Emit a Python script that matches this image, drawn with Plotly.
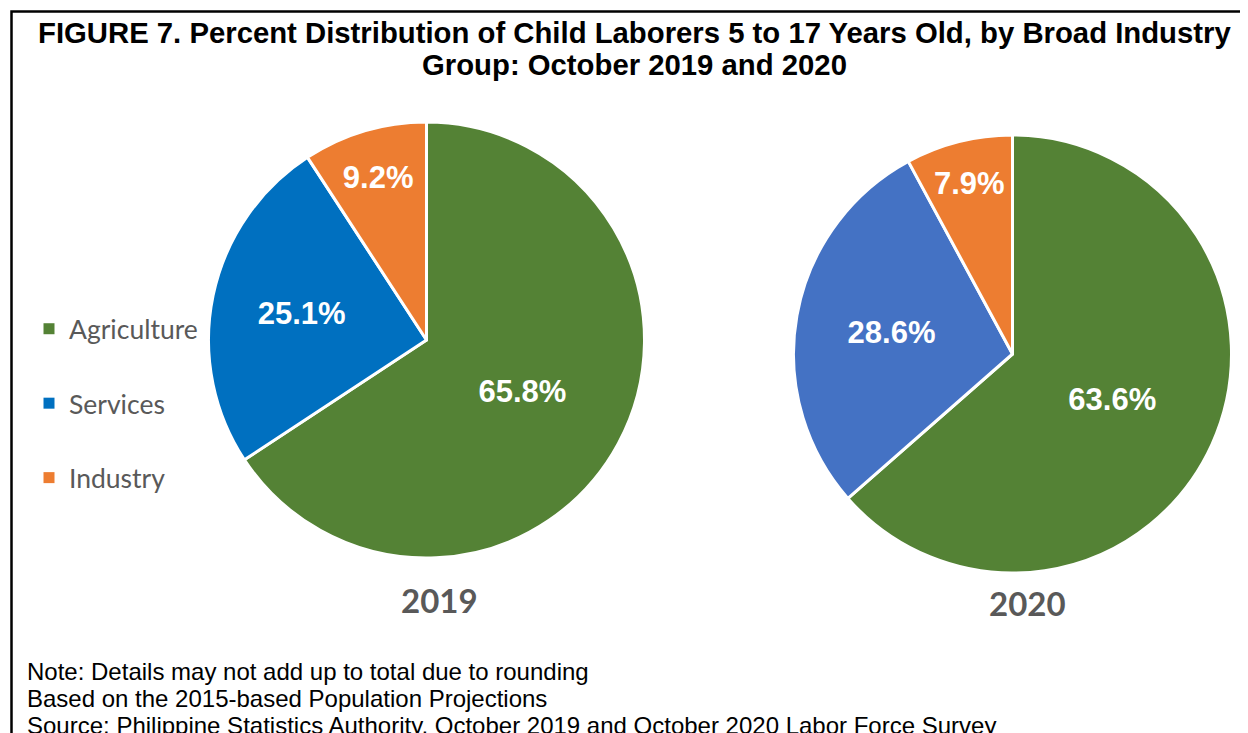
import plotly.graph_objects as go

categories = ["Agriculture", "Services", "Industry"]
values_2019 = [65.8, 25.1, 9.2]
values_2020 = [63.6, 28.6, 7.9]
years = ["2019", "2020"]
colors_2019 = ["#548235", "#0070C0", "#ED7D31"]
colors_2020 = ["#548235", "#4472C4", "#ED7D31"]
legend_colors = ["#548235", "#0070C0", "#ED7D31"]
title_lines = [
    "FIGURE 7. Percent Distribution of Child Laborers 5 to 17 Years Old, by Broad Industry",
    "Group: October 2019 and 2020",
]
notes = [
    "Note: Details may not add up to total due to rounding",
    "Based on the 2015-based Population Projections",
    "Source: Philippine Statistics Authority, October 2019 and October 2020 Labor Force Survey",
]

# page offset of the browser's default body margin
OFF = 8
W, H = 1240, 725


def px(x):
    return (x - OFF) / W


def py(y):
    return 1 - (y - OFF) / H


def dom(x0, x1, y0, y1):
    return dict(x=[px(x0), px(x1)], y=[py(y1), py(y0)])


fig = go.Figure()

for vals, cols, d in [
    (values_2019, colors_2019, dom(208, 645, 122, 558)),
    (values_2020, colors_2020, dom(793, 1232, 135, 573)),
]:
    fig.add_trace(go.Pie(
        labels=categories, values=vals, sort=False, direction="clockwise",
        rotation=0, domain=d, showlegend=False, hole=0,
        marker=dict(colors=cols, line=dict(color="white", width=3)),
        texttemplate="%{value:.1f}%", textposition="inside",
        insidetextorientation="horizontal",
        textfont=dict(family="Arial", size=31, color="white", weight="bold"),
        hoverinfo="label+value",
    ))

for cat, col in zip(categories, legend_colors):
    fig.add_trace(go.Scatter(
        x=[None], y=[None], mode="markers", name=cat, legendgroup=cat,
        marker=dict(symbol="square", size=11, color=col), showlegend=True,
    ))

fig.update_layout(
    width=W, height=H, margin=dict(l=0, r=0, t=0, b=0),
    paper_bgcolor="white", plot_bgcolor="white",
    xaxis=dict(visible=False), yaxis=dict(visible=False),
    legend=dict(x=px(29), y=py(305), xanchor="left", yanchor="top",
                tracegroupgap=37, bgcolor="rgba(0,0,0,0)",
                font=dict(family="Lato", size=26.5, color="#595959")),
    shapes=[dict(type="rect", xref="paper", yref="paper",
                 x0=px(11.5), x1=px(1260), y0=-0.05, y1=py(11.5),
                 line=dict(color="black", width=2.5), fillcolor="rgba(0,0,0,0)")],
)

for line, cy in zip(title_lines, [32.5, 64.5]):
    fig.add_annotation(
        text=line, x=px(634), y=py(cy), xref="paper", yref="paper",
        xanchor="center", yanchor="middle", showarrow=False,
        font=dict(family="Arial", size=29.3, color="black", weight="bold"),
    )

for yr, cx, cy in [(years[0], 439, 600), (years[1], 1027, 603)]:
    fig.add_annotation(
        text=yr, x=px(cx), y=py(cy), xref="paper", yref="paper",
        xanchor="center", yanchor="middle", showarrow=False,
        font=dict(family="Lato", size=33, color="#595959", weight="bold"),
    )

for i, line in enumerate(notes):
    fig.add_annotation(
        text=line, x=px(25), y=py(671 + 27 * i), xref="paper", yref="paper",
        xanchor="left", yanchor="middle", showarrow=False,
        font=dict(family="Arial", size=24, color="black"),
    )

fig.write_html("out.html")
